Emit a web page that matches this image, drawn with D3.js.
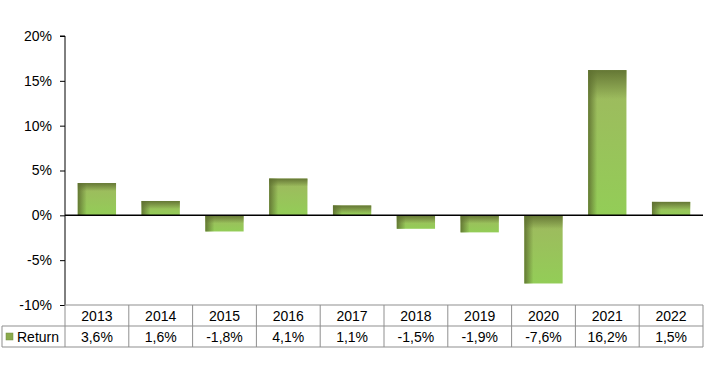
<!DOCTYPE html>
<html>
<head>
<meta charset="utf-8">
<script src="https://cdn.jsdelivr.net/npm/d3@7"></script>
<style>
  body { margin: 0; background: #fff; }
  text { font-family: "Liberation Sans", Arial, sans-serif; fill: #000; }
</style>
</head>
<body>
<svg id="chart" width="719" height="377"></svg>
<script>
// data
const years = ["2013", "2014", "2015", "2016", "2017", "2018", "2019", "2020", "2021", "2022"];
const returns = [3.6, 1.6, -1.8, 4.1, 1.1, -1.5, -1.9, -7.6, 16.2, 1.5];
const yTicks = [-10, -5, 0, 5, 10, 15, 20];
const seriesName = "Return";

const svg = d3.select("#chart");
const padding = { top: 36, left: 65, right: 16, bottom: 72 };
const width = 719, height = 377;
const rowH = 21;

const xScale = d3.scaleBand()
  .domain(years)
  .range([padding.left, width - padding.right])
  .paddingInner(0.4)
  .paddingOuter(0.2);

const yScale = d3.scaleLinear()
  .domain([-10, 20])
  .range([height - padding.bottom, padding.top]);

// gradients for the bevelled bars
const defs = svg.append("defs");
const body = defs.append("linearGradient").attr("id", "body")
  .attr("x1", 0).attr("y1", 0).attr("x2", 0).attr("y2", 1);
body.append("stop").attr("offset", "0%").attr("stop-color", "#9fb85f");
body.append("stop").attr("offset", "100%").attr("stop-color", "#93cd57");

const leftShade = defs.append("linearGradient").attr("id", "leftShade")
  .attr("x1", 0).attr("y1", 0).attr("x2", 1).attr("y2", 0);
leftShade.append("stop").attr("offset", "0%").attr("stop-color", "#5e7030").attr("stop-opacity", 0.9);
leftShade.append("stop").attr("offset", "100%").attr("stop-color", "#5e7030").attr("stop-opacity", 0);

const topShade = defs.append("linearGradient").attr("id", "topShade")
  .attr("x1", 0).attr("y1", 0).attr("x2", 0).attr("y2", 1);
topShade.append("stop").attr("offset", "0%").attr("stop-color", "#5e7030").attr("stop-opacity", 0.9);
topShade.append("stop").attr("offset", "100%").attr("stop-color", "#5e7030").attr("stop-opacity", 0);

const data = years.map((y, i) => ({ year: y, value: returns[i] }));

const bars = svg.append("g").selectAll("g")
  .data(data)
  .join("g");

const barTop = d => yScale(Math.max(0, d.value));
const barH = d => Math.abs(yScale(d.value) - yScale(0));

bars.append("rect")
  .attr("x", d => xScale(d.year))
  .attr("y", barTop)
  .attr("width", xScale.bandwidth())
  .attr("height", barH)
  .attr("fill", "url(#body)");

bars.append("rect")
  .attr("x", d => xScale(d.year))
  .attr("y", barTop)
  .attr("width", 9)
  .attr("height", barH)
  .attr("fill", "url(#leftShade)");

bars.append("rect")
  .attr("x", d => xScale(d.year))
  .attr("y", barTop)
  .attr("width", xScale.bandwidth())
  .attr("height", d => Math.min(barH(d), Math.max(8, barH(d) * 0.2)))
  .attr("fill", "url(#topShade)");

// zero line
svg.append("line")
  .attr("x1", padding.left).attr("x2", width - padding.right)
  .attr("y1", yScale(0)).attr("y2", yScale(0))
  .attr("stroke", "#000").attr("stroke-width", 1.5);

// y axis
const yAxis = svg.append("g")
  .attr("transform", `translate(${padding.left},0)`)
  .call(d3.axisLeft(yScale).tickValues(yTicks).tickSize(5).tickPadding(8).tickFormat(d => d + "%"));
yAxis.select(".domain").attr("stroke", "#000").attr("d", `M-5,${yScale(20)}H0V${yScale(-10)}`);
yAxis.selectAll("text").attr("font-size", 14).attr("font-family", "Liberation Sans, Arial, sans-serif").attr("fill", "#000");

// data table below the plot
const tableTop = yScale(-10);
const table = svg.append("g");
const gray = "#8f8f8f";
const left = 2, right = width - padding.right;
const cellW = xScale.step();

table.append("line").attr("x1", padding.left).attr("x2", right)
  .attr("y1", tableTop).attr("y2", tableTop).attr("stroke", gray);
table.append("line").attr("x1", left).attr("x2", right)
  .attr("y1", tableTop + rowH).attr("y2", tableTop + rowH).attr("stroke", gray);
table.append("line").attr("x1", left).attr("x2", right)
  .attr("y1", tableTop + 2 * rowH).attr("y2", tableTop + 2 * rowH).attr("stroke", gray);
table.append("line").attr("x1", left).attr("x2", left)
  .attr("y1", tableTop + rowH).attr("y2", tableTop + 2 * rowH).attr("stroke", gray);

const colEdges = d3.range(years.length + 1).map(i => padding.left + i * cellW);
table.selectAll(".vline")
  .data(colEdges)
  .join("line")
  .attr("x1", d => d).attr("x2", d => d)
  .attr("y1", tableTop).attr("y2", tableTop + 2 * rowH)
  .attr("stroke", gray);

table.selectAll(".yr")
  .data(years)
  .join("text")
  .attr("x", d => xScale(d) + xScale.bandwidth() / 2)
  .attr("y", tableTop + rowH / 2 + 5)
  .attr("text-anchor", "middle")
  .attr("font-size", 14)
  .text(d => d);

table.selectAll(".val")
  .data(data)
  .join("text")
  .attr("x", d => xScale(d.year) + xScale.bandwidth() / 2)
  .attr("y", tableTop + rowH * 1.5 + 5)
  .attr("text-anchor", "middle")
  .attr("font-size", 14)
  .text(d => d.value.toFixed(1).replace(".", ",") + "%");

// legend key in the table
table.append("rect")
  .attr("x", 6).attr("y", tableTop + rowH * 1.5 - 3.5)
  .attr("width", 7).attr("height", 7)
  .attr("fill", "#8aaa4c").attr("stroke", "#6f8a3c").attr("stroke-width", 0.5);
table.append("text")
  .attr("x", 17).attr("y", tableTop + rowH * 1.5 + 5)
  .attr("font-size", 14)
  .text(seriesName);
</script>
</body>
</html>
